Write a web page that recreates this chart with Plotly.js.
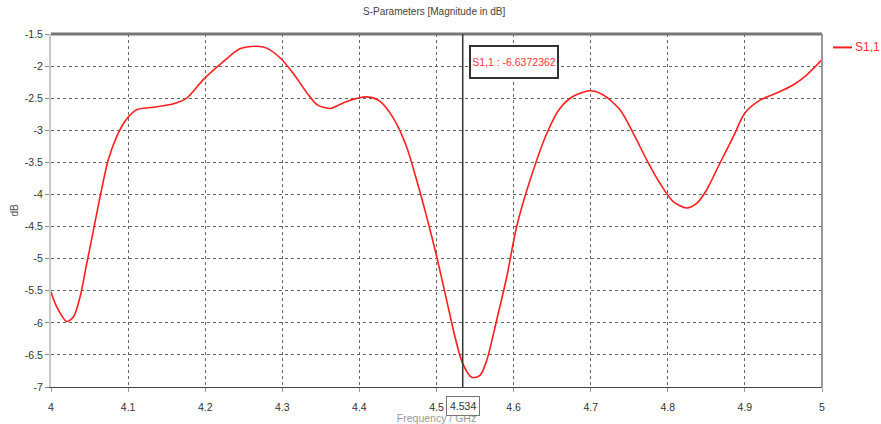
<!DOCTYPE html>
<html>
<head>
<meta charset="utf-8">
<script src="https://cdn.plot.ly/plotly-3.0.1.min.js"></script>
<style>html,body{margin:0;padding:0;background:#fff;}#chart{width:881px;height:424px;}</style>
</head>
<body>
<div id="chart"></div>
<script>
// Frequency (GHz)
const freq = [4.000, 4.0074, 4.0203, 4.029, 4.0376, 4.0463, 4.055, 4.0636, 4.0743, 4.0852,
  4.096, 4.111, 4.1327, 4.158, 4.176, 4.1975, 4.2235, 4.245, 4.2667, 4.2797,
  4.297, 4.314, 4.3316, 4.345, 4.3619, 4.3835, 4.4095, 4.4267, 4.444, 4.4613,
  4.4743, 4.4873, 4.5003, 4.5132, 4.524, 4.534, 4.5457, 4.5564, 4.565, 4.578,
  4.591, 4.604, 4.6213, 4.643, 4.66, 4.6774, 4.699, 4.7163, 4.738, 4.7553,
  4.7726, 4.79, 4.807, 4.8244, 4.8374, 4.8503, 4.8677, 4.885, 4.9, 4.9196,
  4.9412, 4.963, 4.98, 5.0];
// S1,1 magnitude (dB)
const s11 = [-5.52, -5.75, -5.98, -5.91, -5.60, -5.08, -4.56, -4.04, -3.46, -3.10,
  -2.86, -2.68, -2.64, -2.59, -2.50, -2.21, -1.93, -1.73, -1.69, -1.72,
  -1.87, -2.11, -2.41, -2.60, -2.66, -2.55, -2.48, -2.55, -2.81, -3.26,
  -3.78, -4.35, -4.97, -5.65, -6.22, -6.637, -6.85, -6.82, -6.59, -5.96,
  -5.29, -4.50, -3.78, -3.05, -2.66, -2.47, -2.385, -2.45, -2.68, -3.05,
  -3.46, -3.83, -4.11, -4.21, -4.14, -3.93, -3.51, -3.10, -2.73, -2.53,
  -2.42, -2.29, -2.14, -1.90];
const seriesName = "S1,1";
const xTickVals = [4, 4.1, 4.2, 4.3, 4.4, 4.5, 4.6, 4.7, 4.8, 4.9, 5];
const xTickText = ["4", "4.1", "4.2", "4.3", "4.4", "4.5", "4.6", "4.7", "4.8", "4.9", "5"];
const yTickVals = [-1.5, -2, -2.5, -3, -3.5, -4, -4.5, -5, -5.5, -6, -6.5, -7];
const yTickText = ["-1.5", "-2", "-2.5", "-3", "-3.5", "-4", "-4.5", "-5", "-5.5", "-6", "-6.5", "-7"];
const markerFreq = 4.534;
const markerFreqText = "4.534";
const markerValueText = "-6.6372362";
const markerLabel = "S1,1 : " + markerValueText;

const FONT = "Liberation Sans, Arial, sans-serif";
const RED = "#ff1e1e";

const trace = {
  x: freq, y: s11, type: "scatter", mode: "lines", name: seriesName,
  line: {color: RED, width: 1.6, shape: "spline", smoothing: 0.8},
  showlegend: false
};

const layout = {
  width: 881, height: 424,
  margin: {l: 51, r: 59, t: 34, b: 37, pad: 0, autoexpand: false},
  paper_bgcolor: "#fff", plot_bgcolor: "#fff",
  font: {family: FONT, size: 10.5, color: "#333"},
  title: {text: "S-Parameters [Magnitude in dB]", x: 0.497, xref: "paper", y: 0.972, yanchor: "middle",
          font: {family: FONT, size: 10, color: "#444"}},
  showlegend: false,
  xaxis: {
    range: [4, 5], tickvals: xTickVals, ticktext: xTickText,
    showgrid: true, gridcolor: "#666", griddash: "dot", gridwidth: 1,
    zeroline: false, showline: true, linecolor: "#444", linewidth: 1,
    ticks: "outside", ticklen: 4, tickcolor: "#999", ticklabelstandoff: 6,
    tickfont: {family: FONT, size: 10.5, color: "#333"},
    title: {text: "Frequency / GHz", standoff: 24, font: {family: FONT, size: 10.5, color: "#999"}},
    automargin: false, fixedrange: true
  },
  yaxis: {
    range: [-7, -1.5], tickvals: yTickVals, ticktext: yTickText,
    showgrid: true, gridcolor: "#666", griddash: "dot", gridwidth: 1,
    zeroline: false, showline: true, linecolor: "#c8c8c8", linewidth: 2,
    ticks: "outside", ticklen: 4, tickcolor: "#888",
    tickfont: {family: FONT, size: 10.5, color: "#333"},
    title: {text: "dB", standoff: 4, font: {family: FONT, size: 10, color: "#555"}},
    automargin: false, fixedrange: true
  },
  shapes: [
    {type: "line", xref: "paper", yref: "paper", x0: 0, x1: 1, y0: 1, y1: 1,
     line: {color: "#777", width: 3}},
    {type: "line", xref: "paper", yref: "paper", x0: 1, x1: 1, y0: 0, y1: 1,
     line: {color: "#999", width: 2}},
    {type: "line", xref: "x", yref: "paper", x0: markerFreq, x1: markerFreq, y0: 0, y1: 1,
     line: {color: "#333", width: 1.5}},
    // legend sample line
    {type: "line", xref: "paper", yref: "paper", x0: 1.0143, x1: 1.0389, y0: 0.962, y1: 0.962,
     line: {color: RED, width: 2}}
  ],
  annotations: [
    {xref: "x", yref: "paper", x: markerFreq, y: 0.97, xanchor: "left", yanchor: "top",
     xshift: 8, yshift: -2, text: " ", showarrow: false, width: 86, height: 30,
     bgcolor: "#888", borderwidth: 0, borderpad: 0},
    {xref: "x", yref: "paper", x: markerFreq, y: 0.97, xanchor: "left", yanchor: "top",
     xshift: 6, text: markerLabel, showarrow: false, width: 86, height: 30,
     bgcolor: "#fff", bordercolor: "#333", borderwidth: 2, borderpad: 0,
     font: {family: FONT, size: 10.5, color: "#ff3040"}},
    {xref: "x", yref: "paper", x: markerFreq, y: 0, xanchor: "center", yanchor: "top",
     yshift: -9, text: markerFreqText, showarrow: false,
     bgcolor: "#fff", bordercolor: "#777", borderwidth: 1, borderpad: 3,
     font: {family: FONT, size: 10.5, color: "#333"}},
    // legend text
    {xref: "paper", yref: "paper", x: 1.0415, y: 0.962, xanchor: "left", yanchor: "middle",
     text: seriesName, showarrow: false, borderpad: 0,
     font: {family: FONT, size: 12, color: "#ff3030"}}
  ]
};

Plotly.newPlot("chart", [trace], layout, {displayModeBar: false, staticPlot: true});
</script>
</body>
</html>
